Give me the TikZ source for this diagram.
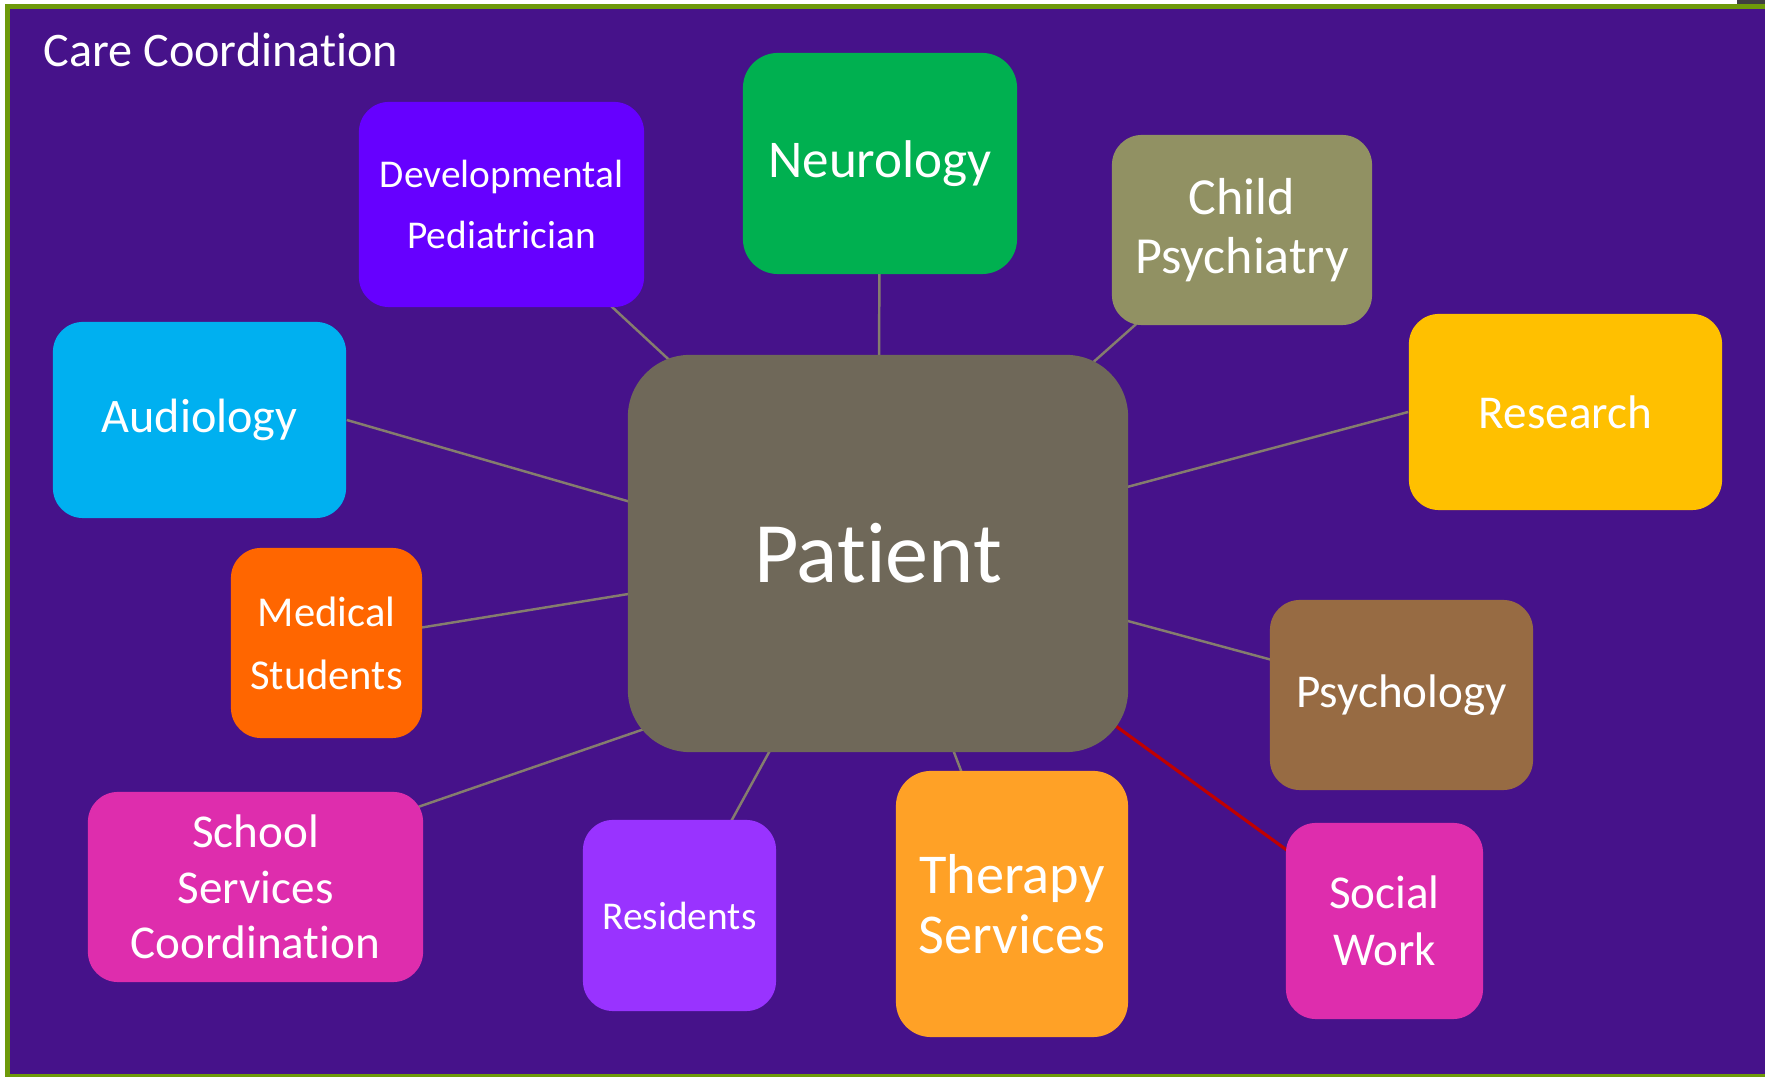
\documentclass[tikz,border=0pt]{standalone}
\usepackage{fontspec}
\setmainfont{Carlito}[RawFeature={-liga;-clig;-dlig;-calt}]
\usetikzlibrary{backgrounds,calc}

\definecolor{bgpurple}{HTML}{46128A}
\definecolor{framegreen}{HTML}{6E9A0A}
\definecolor{linkgray}{HTML}{857D6E}
\definecolor{linkred}{HTML}{C00000}
\definecolor{patientgray}{HTML}{6F6859}
\definecolor{devviolet}{HTML}{6600FF}
\definecolor{neurogreen}{HTML}{00B050}
\definecolor{psyolive}{HTML}{919163}
\definecolor{resgold}{HTML}{FFC000}
\definecolor{audioblue}{HTML}{00B0F0}
\definecolor{medorange}{HTML}{FF6600}
\definecolor{psybrown}{HTML}{976B43}
\definecolor{magentapink}{HTML}{DE2DAD}
\definecolor{resviolet}{HTML}{9933FF}
\definecolor{therorange}{HTML}{FFA126}

\begin{document}
\begin{tikzpicture}[x=0.01cm, y=-0.01cm,
  box/.style={rounded corners=0.3cm, text=white, align=center, inner sep=0pt},
  link/.style={draw=linkgray, line width=0.7pt},
  fsize/.style 2 args={font=\fontsize{#1}{#2}\selectfont}]
  \useasboundingbox (0,0) rectangle (1765,1077);

  % backdrop and frame
  \begin{scope}[on background layer]
    \fill[white] (0,0) rectangle (1765,1077);
    \fill[bgpurple] (10,9) rectangle (1765,1074);
    \fill[framegreen] (5,4) rectangle (1765,9);
    \fill[framegreen] (5,4) rectangle (10,1077);
    \fill[framegreen] (5,1074) rectangle (1765,1077);
    \fill[black!75] (1737,0) rectangle (1765,4);
  \end{scope}

  \node[anchor=base west, inner sep=0pt, text=white, fsize={13.7}{16}] (Title) at (43,67) {Care Coordination};

  % centre
  \node[box, fill=patientgray, rounded corners=0.62cm, minimum width=5cm, minimum height=3.97cm, fsize={24.5}{29}] (Patient) at (878,553.5) {Patient};

  % surrounding services
  \node[box, fill=devviolet, minimum width=2.85cm, minimum height=2.05cm, fsize={11.2}{17.6}] (DevPed) at (501.5,204.5) {Developmental\\Pediatrician};
  \node[box, fill=neurogreen, rounded corners=0.35cm, minimum width=2.74cm, minimum height=2.21cm, fsize={15.1}{18}] (Neuro) at (880,163.5) {Neurology};
  \node[box, fill=psyolive, minimum width=2.6cm, minimum height=1.9cm, fsize={14.8}{16.8}] (ChildPsy) at (1242,230) {Child\\Psychiatry};
  \node[box, fill=resgold, minimum width=3.13cm, minimum height=1.96cm, fsize={13.4}{16}] (Research) at (1565.5,412) {Research};
  \node[box, fill=audioblue, minimum width=2.93cm, minimum height=1.96cm, fsize={13.7}{16}] (Audio) at (199.5,420) {Audiology};
  \node[box, fill=medorange, minimum width=1.91cm, minimum height=1.9cm, fsize={12.1}{17.9}] (MedStud) at (326.5,643) {Medical\\Students};
  \node[box, fill=psybrown, minimum width=2.63cm, minimum height=1.9cm, fsize={13.4}{16}] (Psych) at (1401.5,695) {Psychology};
  \node[box, fill=magentapink, minimum width=3.35cm, minimum height=1.9cm, fsize={13.4}{15.8}] (School) at (255.5,887) {School\\Services\\Coordination};
  \node[box, fill=resviolet, minimum width=1.93cm, minimum height=1.91cm, fsize={11.2}{14}] (Residents) at (679.5,915.5) {Residents};
  \node[box, fill=therorange, rounded corners=0.35cm, minimum width=2.32cm, minimum height=2.66cm, fsize={16}{17.1}] (Therapy) at (1012,904) {Therapy\\Services};
  \node[box, fill=magentapink, minimum width=1.97cm, minimum height=1.96cm, fsize={13.4}{16.2}] (Social) at (1384.5,921) {Social\\Work};

  % connectors behind the boxes
  \begin{scope}[on background layer]
    \draw[link] (DevPed.center) -- (Patient.center);
    \draw[link] (Neuro.center) -- (Patient.center);
    \draw[link] (ChildPsy.center) -- (Patient.center);
    \draw[link] (Research.west) -- (Patient.center);
    \draw[link] (Audio.east) -- ($(Patient.center)+(0,20)$);
    \draw[link] (MedStud.center) -- (Patient.center);
    \draw[link] (Psych.center) -- (Patient.center);
    \draw[link] ($(School.center)+(0,-24)$) -- ($(Patient.center)+(0,95)$);
    \draw[link] (Residents.center) -- (Patient.center);
    \draw[link] (Therapy.center) -- (Patient.center);
    \draw[link, draw=linkred, line width=0.9pt] (Social.center) -- (Patient.center);
  \end{scope}
\end{tikzpicture}
\end{document}
